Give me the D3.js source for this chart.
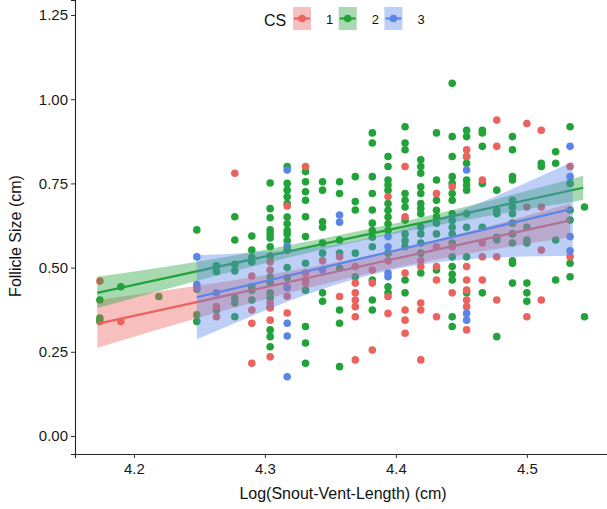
<!DOCTYPE html>
<html>
<head>
<meta charset="utf-8">
<script src="https://cdn.jsdelivr.net/npm/d3@7"></script>
<style>
  body { margin: 0; background: #fff; }
  svg { display: block; font-family: "Liberation Sans", Arial, sans-serif; }
</style>
</head>
<body>
<svg id="chart" width="607" height="509"></svg>
<script>
// axis ticks
var xTicks = [4.2, 4.3, 4.4, 4.5];
var yTicks = [0, 0.25, 0.5, 0.75, 1, 1.25];

// legend groups
var groupNames = ['1', '2', '3'];
var groupColors = ['#ec625d', '#22a33a', '#5a86e8'];

// CS 1 observations [log svl, follicle size]
var cs1Points = [
    [4.174, 0.46], [4.190, 0.34],
    [4.263, 0.384], [4.263, 0.354],
    [4.277, 0.78],
    [4.290, 0.475], [4.290, 0.374], [4.290, 0.335], [4.290, 0.216],
    [4.304, 0.517], [4.304, 0.493], [4.304, 0.395], [4.304, 0.38], [4.304, 0.344], [4.304, 0.235],
    [4.317, 0.683], [4.317, 0.443], [4.317, 0.415], [4.317, 0.365],
    [4.331, 0.80], [4.331, 0.484], [4.331, 0.463], [4.331, 0.454],
    [4.344, 0.52],
    [4.357, 0.532], [4.357, 0.414],
    [4.369, 0.503], [4.369, 0.454], [4.369, 0.425], [4.369, 0.404], [4.369, 0.384], [4.369, 0.354], [4.369, 0.226],
    [4.382, 0.493], [4.382, 0.454], [4.382, 0.255],
    [4.394, 0.711], [4.394, 0.52], [4.394, 0.414], [4.394, 0.364],
    [4.407, 0.80], [4.407, 0.651], [4.407, 0.484], [4.407, 0.374], [4.407, 0.344], [4.407, 0.305],
    [4.419, 0.52], [4.419, 0.503], [4.419, 0.395], [4.419, 0.374], [4.419, 0.226],
    [4.431, 0.72], [4.431, 0.562], [4.431, 0.503], [4.431, 0.463], [4.431, 0.354],
    [4.443, 0.74], [4.443, 0.562], [4.443, 0.425],
    [4.454, 0.85], [4.454, 0.83], [4.454, 0.503], [4.454, 0.463], [4.454, 0.433], [4.454, 0.404], [4.454, 0.384], [4.454, 0.315],
    [4.466, 0.76], [4.466, 0.573], [4.466, 0.532], [4.466, 0.463],
    [4.477, 0.938], [4.477, 0.86], [4.477, 0.532], [4.477, 0.404],
    [4.500, 0.928], [4.500, 0.68], [4.500, 0.354],
    [4.511, 0.908], [4.511, 0.68], [4.511, 0.552], [4.511, 0.404],
    [4.533, 0.80], [4.533, 0.532]
];

// CS 2 observations
var cs2Points = [
    [4.174, 0.404], [4.174, 0.35], [4.174, 0.34],
    [4.190, 0.443],
    [4.219, 0.414],
    [4.248, 0.612], [4.248, 0.436], [4.248, 0.36], [4.248, 0.34],
    [4.263, 0.505], [4.263, 0.488], [4.263, 0.374],
    [4.277, 0.651], [4.277, 0.582], [4.277, 0.51], [4.277, 0.49], [4.277, 0.41], [4.277, 0.395], [4.277, 0.354],
    [4.290, 0.594], [4.290, 0.552], [4.290, 0.53], [4.290, 0.517], [4.290, 0.443], [4.290, 0.433], [4.290, 0.404],
    [4.304, 0.751], [4.304, 0.675], [4.304, 0.648], [4.304, 0.612], [4.304, 0.60], [4.304, 0.588], [4.304, 0.562],
    [4.304, 0.534], [4.304, 0.472], [4.304, 0.454], [4.304, 0.425], [4.304, 0.41], [4.304, 0.383],
    [4.304, 0.315], [4.304, 0.295], [4.304, 0.265],
    [4.317, 0.80], [4.317, 0.75], [4.317, 0.73], [4.317, 0.71], [4.317, 0.69], [4.317, 0.65], [4.317, 0.63],
    [4.317, 0.61], [4.317, 0.60], [4.317, 0.58], [4.317, 0.552], [4.317, 0.50], [4.317, 0.47],
    [4.331, 0.785], [4.331, 0.755], [4.331, 0.725], [4.331, 0.70], [4.331, 0.651], [4.331, 0.592],
    [4.331, 0.513], [4.331, 0.433], [4.331, 0.325], [4.331, 0.276], [4.331, 0.216],
    [4.344, 0.755], [4.344, 0.73], [4.344, 0.636], [4.344, 0.62], [4.344, 0.573], [4.344, 0.543], [4.344, 0.425], [4.344, 0.40],
    [4.357, 0.755], [4.357, 0.72], [4.357, 0.582], [4.357, 0.543], [4.357, 0.498], [4.357, 0.374], [4.357, 0.335], [4.357, 0.206],
    [4.369, 0.77], [4.369, 0.696], [4.369, 0.671], [4.369, 0.543], [4.369, 0.473],
    [4.382, 0.90], [4.382, 0.87], [4.382, 0.77], [4.382, 0.72], [4.382, 0.671], [4.382, 0.632], [4.382, 0.61],
    [4.382, 0.59], [4.382, 0.562], [4.382, 0.463], [4.382, 0.404], [4.382, 0.374],
    [4.394, 0.83], [4.394, 0.80], [4.394, 0.76], [4.394, 0.745], [4.394, 0.73], [4.394, 0.69], [4.394, 0.67],
    [4.394, 0.65], [4.394, 0.63], [4.394, 0.61], [4.394, 0.543], [4.394, 0.443], [4.394, 0.425],
    [4.407, 0.918], [4.407, 0.87], [4.407, 0.85], [4.407, 0.72], [4.407, 0.70], [4.407, 0.68], [4.407, 0.641],
    [4.407, 0.60], [4.407, 0.58], [4.407, 0.562], [4.407, 0.463], [4.407, 0.425],
    [4.419, 0.82], [4.419, 0.80], [4.419, 0.78], [4.419, 0.74], [4.419, 0.72], [4.419, 0.69], [4.419, 0.675],
    [4.419, 0.66], [4.419, 0.62], [4.419, 0.60], [4.419, 0.573], [4.419, 0.543], [4.419, 0.484],
    [4.431, 0.90], [4.431, 0.76], [4.431, 0.70], [4.431, 0.67], [4.431, 0.651], [4.431, 0.632], [4.431, 0.60], [4.431, 0.493],
    [4.443, 1.047], [4.443, 0.889], [4.443, 0.83], [4.443, 0.77], [4.443, 0.75], [4.443, 0.72], [4.443, 0.70],
    [4.443, 0.66], [4.443, 0.64], [4.443, 0.62], [4.443, 0.60], [4.443, 0.573], [4.443, 0.532], [4.443, 0.503],
    [4.443, 0.48], [4.443, 0.463], [4.443, 0.354], [4.443, 0.325],
    [4.454, 0.908], [4.454, 0.889], [4.454, 0.83], [4.454, 0.81], [4.454, 0.76], [4.454, 0.745], [4.454, 0.73],
    [4.454, 0.66], [4.454, 0.62], [4.454, 0.532], [4.454, 0.425],
    [4.466, 0.908], [4.466, 0.90], [4.466, 0.86], [4.466, 0.75], [4.466, 0.62], [4.466, 0.425],
    [4.477, 0.73], [4.477, 0.67], [4.477, 0.66], [4.477, 0.59], [4.477, 0.582], [4.477, 0.295],
    [4.489, 0.889], [4.489, 0.85], [4.489, 0.77], [4.489, 0.76], [4.489, 0.70], [4.489, 0.68], [4.489, 0.66],
    [4.489, 0.632], [4.489, 0.60], [4.489, 0.573], [4.489, 0.52], [4.489, 0.513], [4.489, 0.454],
    [4.500, 0.62], [4.500, 0.582], [4.500, 0.573], [4.500, 0.454], [4.500, 0.425], [4.500, 0.40],
    [4.511, 0.81], [4.511, 0.80],
    [4.522, 0.844], [4.522, 0.81], [4.522, 0.582], [4.522, 0.463],
    [4.533, 0.918], [4.533, 0.75], [4.533, 0.671], [4.533, 0.641], [4.533, 0.513], [4.533, 0.473],
    [4.544, 0.68], [4.544, 0.354]
];

// CS 3 observations
var cs3Points = [
    [4.248, 0.532], [4.248, 0.45], [4.248, 0.44],
    [4.263, 0.425],
    [4.317, 0.79], [4.317, 0.564], [4.317, 0.44], [4.317, 0.335], [4.317, 0.297], [4.317, 0.176],
    [4.344, 0.493],
    [4.357, 0.656], [4.357, 0.635],
    [4.394, 0.592], [4.394, 0.562], [4.394, 0.484], [4.394, 0.473],
    [4.454, 0.79], [4.454, 0.364], [4.454, 0.344],
    [4.533, 0.86], [4.533, 0.77], [4.533, 0.592], [4.533, 0.55]
];

// fitted lines with 95% bands [x, lower, fit, upper]
var cs1Fit = [[4.172, 0.262, 0.333, 0.404], [4.26, 0.363, 0.408, 0.453], [4.35, 0.456, 0.484, 0.512], [4.44, 0.531, 0.561, 0.591], [4.533, 0.590, 0.640, 0.690]];
var cs2Fit = [[4.172, 0.380, 0.425, 0.473], [4.26, 0.473, 0.499, 0.525], [4.35, 0.559, 0.575, 0.591], [4.44, 0.632, 0.650, 0.668], [4.543, 0.701, 0.737, 0.773]];
var cs3Fit = [[4.248, 0.287, 0.412, 0.537], [4.32, 0.403, 0.478, 0.553], [4.39, 0.487, 0.542, 0.597], [4.46, 0.526, 0.606, 0.686], [4.535, 0.535, 0.675, 0.815]];

var svg = d3.select('#chart');

var x = d3.scaleLinear().domain([4.155, 4.565]).range([75, 612]);
var y = d3.scaleLinear().domain([-0.0534, 1.2945]).range([454, 0]);

var pointsByGroup = [cs1Points, cs2Points, cs3Points];
var fitsByGroup = [cs1Fit, cs2Fit, cs3Fit];

// points, green first so the others sit over it
[1, 0, 2].forEach(function(g) {
    svg.append('g').selectAll('circle')
        .data(pointsByGroup[g])
        .enter().append('circle')
        .attr('cx', function(d) { return x(d[0]); })
        .attr('cy', function(d) { return y(d[1]); })
        .attr('r', 3.8)
        .attr('fill', groupColors[g]);
});

var band = d3.area()
    .x(function(d) { return x(d[0]); })
    .y0(function(d) { return y(d[1]); })
    .y1(function(d) { return y(d[3]); })
    .curve(d3.curveNatural);

var fitLine = d3.line()
    .x(function(d) { return x(d[0]); })
    .y(function(d) { return y(d[2]); });

fitsByGroup.forEach(function(fit, g) {
    svg.append('path')
        .datum(fit)
        .attr('d', band)
        .attr('fill', groupColors[g])
        .attr('fill-opacity', 0.4);
    svg.append('path')
        .datum(fit)
        .attr('d', fitLine)
        .attr('fill', 'none')
        .attr('stroke', groupColors[g])
        .attr('stroke-width', 2.2);
});

// axes
var xAxis = svg.append('g')
    .attr('transform', 'translate(0,454)')
    .call(d3.axisBottom(x).tickValues(xTicks).tickFormat(d3.format('.1f')).tickSizeOuter(0).tickSize(4).tickPadding(5));
var yAxis = svg.append('g')
    .attr('transform', 'translate(75,0)')
    .call(d3.axisLeft(y).tickValues(yTicks).tickFormat(d3.format('.2f')).tickSizeOuter(0).tickSize(4).tickPadding(3));

[xAxis, yAxis].forEach(function(ax) {
    ax.select('.domain').attr('stroke', '#222').attr('stroke-width', 1.1);
    ax.selectAll('.tick line').attr('stroke', '#333');
    ax.selectAll('.tick text').attr('fill', '#1a1a1a').style('font-size', '15px');
});

svg.append('text')
    .attr('x', 343)
    .attr('y', 499)
    .attr('text-anchor', 'middle')
    .style('font-size', '16px')
    .attr('fill', '#111')
    .text('Log(Snout-Vent-Length) (cm)');

svg.append('text')
    .attr('transform', 'translate(21,236) rotate(-90)')
    .attr('text-anchor', 'middle')
    .style('font-size', '16px')
    .attr('fill', '#111')
    .text('Follicle Size (cm)');

// legend
var legend = svg.append('g');
legend.append('text')
    .attr('x', 264)
    .attr('y', 26)
    .style('font-size', '16px')
    .attr('fill', '#111')
    .text('CS');

groupNames.forEach(function(name, g) {
    var kx = 293 + g * 45.7;
    legend.append('rect')
        .attr('x', kx).attr('y', 7)
        .attr('width', 18).attr('height', 23)
        .attr('fill', groupColors[g])
        .attr('fill-opacity', 0.4);
    legend.append('line')
        .attr('x1', kx + 1).attr('x2', kx + 17)
        .attr('y1', 18.5).attr('y2', 18.5)
        .attr('stroke', groupColors[g])
        .attr('stroke-width', 2.2);
    legend.append('circle')
        .attr('cx', kx + 9).attr('cy', 18.5)
        .attr('r', 3.8)
        .attr('fill', groupColors[g]);
    legend.append('text')
        .attr('x', kx + 33)
        .attr('y', 24)
        .style('font-size', '13px')
        .attr('fill', '#111')
        .text(name);
});
</script>
</body>
</html>
